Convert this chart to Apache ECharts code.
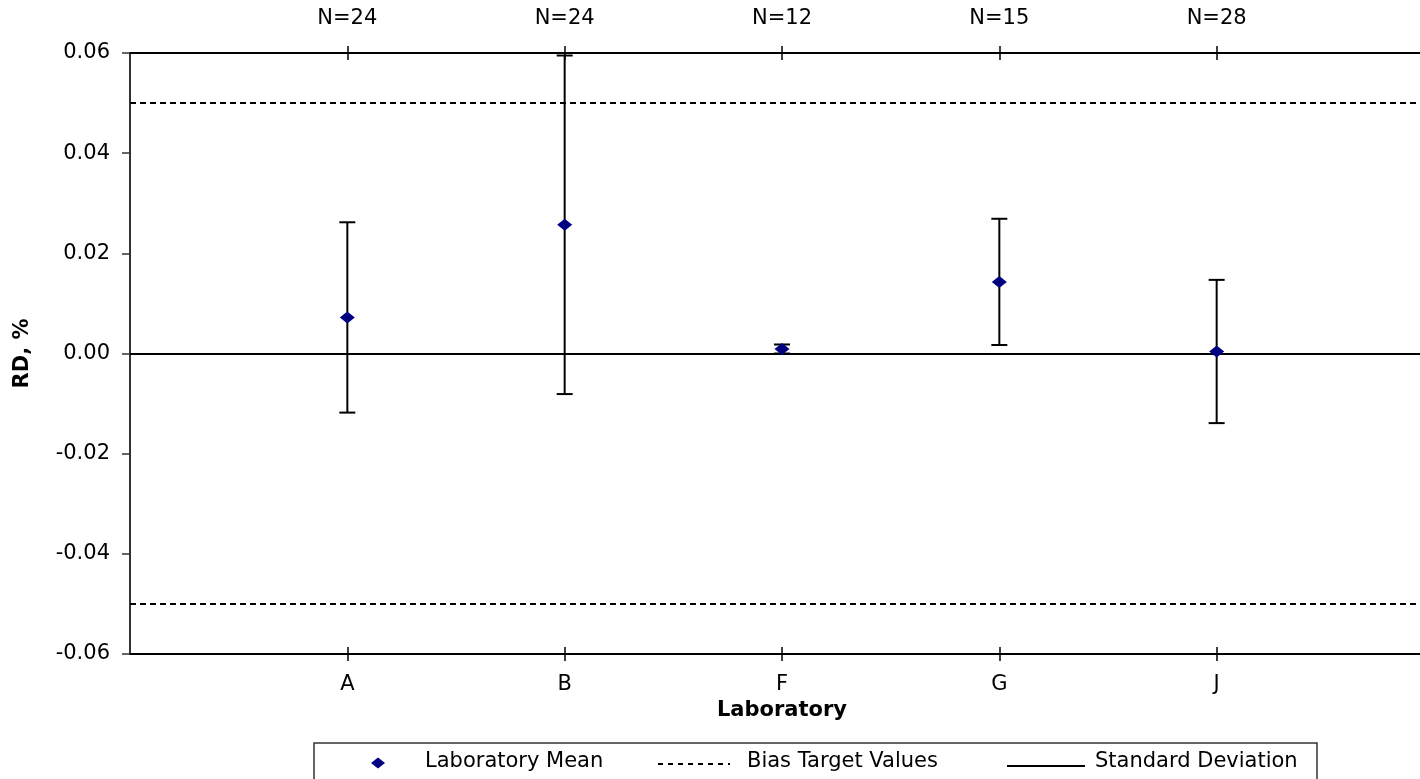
<!DOCTYPE html>
<html>
<head>
<meta charset="utf-8">
<title>Laboratory RD</title>
<script src="https://cdn.jsdelivr.net/npm/echarts@6/dist/echarts.min.js"></script>
<style>
  html, body { margin: 0; padding: 0; background: #fff; overflow: hidden; }
  #chart { width: 1440px; height: 779px; }
</style>
</head>
<body>
<div id="chart"></div>
<script>
// Laboratories and their sample counts
const labs = ['A', 'B', 'F', 'G', 'J'];
const counts = ['N=24', 'N=24', 'N=12', 'N=15', 'N=28'];
// Mean relative difference (%) and standard deviation per laboratory
const labMeans = [0.0072, 0.0257, 0.0009, 0.0143, 0.0004];
const labSD = [0.0190, 0.0338, 0.0009, 0.0126, 0.0143];
// Bias target limits
const biasTargets = [0.05, -0.05];

const FONT = '"DejaVu Sans", "Liberation Sans", Arial, sans-serif';
const positions = labs.map((_, i) => i + 1);

const meanData = positions.map((p, i) => [p, labMeans[i]]);
const sdData = positions.map((p, i) => [p, labMeans[i] - labSD[i], labMeans[i] + labSD[i]]);

const chart = echarts.init(document.getElementById('chart'), null, { renderer: 'canvas' });

const baseX = {
  type: 'value', min: 0, max: 6, interval: 1,
  splitLine: { show: false }
};

const option = {
  animation: false,
  backgroundColor: '#fff',
  grid: { left: 130, top: 53, width: 1304, height: 601, containLabel: false },
  xAxis: [
    Object.assign({}, baseX, {
      position: 'bottom',
      name: 'Laboratory', nameLocation: 'middle', nameGap: 42,
      nameTextStyle: { fontFamily: FONT, fontSize: 21, fontWeight: 'bold', color: '#000' },
      axisLine: { show: true, onZero: false, lineStyle: { color: '#000', width: 2 } },
      axisTick: { show: true, inside: false, length: 7, customValues: positions, lineStyle: { color: '#000', width: 1.5 } },
      axisLabel: { show: true, margin: 20, customValues: positions, fontFamily: FONT, fontSize: 21, color: '#000',
        formatter: v => labs[v - 1] || '' }
    }),
    Object.assign({}, baseX, {
      position: 'top',
      axisLine: { show: true, onZero: false, lineStyle: { color: '#000', width: 2 } },
      axisTick: { show: true, inside: false, length: 7, customValues: positions, lineStyle: { color: '#000', width: 1.5 } },
      axisLabel: { show: true, margin: 24, customValues: positions, fontFamily: FONT, fontSize: 21, color: '#000',
        formatter: v => counts[v - 1] || '' }
    }),
    Object.assign({}, baseX, {
      position: 'bottom',
      axisLine: { show: false, onZero: false },
      axisTick: { show: true, inside: true, length: 7, customValues: positions, lineStyle: { color: '#000', width: 1.5 } },
      axisLabel: { show: false }
    }),
    Object.assign({}, baseX, {
      position: 'top',
      axisLine: { show: false, onZero: false },
      axisTick: { show: true, inside: true, length: 7, customValues: positions, lineStyle: { color: '#000', width: 1.5 } },
      axisLabel: { show: false }
    })
  ],
  yAxis: {
    type: 'value', min: -0.06, max: 0.06, interval: 0.02,
    name: 'RD, %', nameLocation: 'middle', nameGap: 97, nameRotate: 90,
    nameTextStyle: { fontFamily: FONT, fontSize: 21, fontWeight: 'bold', color: '#000' },
    axisLine: { show: true, onZero: false, lineStyle: { color: '#333', width: 2 } },
    axisTick: { show: true, inside: false, length: 8, lineStyle: { color: '#333', width: 1.5 } },
    axisLabel: { margin: 20, fontFamily: FONT, fontSize: 21, color: '#000',
      formatter: v => (Math.abs(v) < 1e-9 ? 0 : v).toFixed(2) },
    splitLine: { show: false }
  },
  series: [
    {
      name: 'Bias Target Values',
      type: 'line',
      data: [],
      silent: true,
      markLine: {
        silent: true, symbol: 'none', label: { show: false },
        lineStyle: { color: '#000', width: 2, type: [6, 4] },
        data: biasTargets.map(v => ({ yAxis: v }))
      }
    },
    {
      name: 'Zero',
      type: 'line',
      data: [],
      silent: true,
      markLine: {
        silent: true, symbol: 'none', label: { show: false },
        lineStyle: { color: '#000', width: 2, type: 'solid' },
        data: [{ yAxis: 0 }]
      }
    },
    {
      name: 'Standard Deviation',
      type: 'custom',
      silent: true,
      z: 3,
      data: sdData,
      encode: { x: 0, y: [1, 2] },
      renderItem: function (params, api) {
        const x = api.value(0);
        const lo = api.coord([x, api.value(1)]);
        const hi = api.coord([x, api.value(2)]);
        const w = 8;
        const st = { stroke: '#000', lineWidth: 2 };
        return {
          type: 'group',
          children: [
            { type: 'line', shape: { x1: hi[0], y1: hi[1], x2: lo[0], y2: lo[1] }, style: st },
            { type: 'line', shape: { x1: hi[0] - w, y1: hi[1], x2: hi[0] + w, y2: hi[1] }, style: st },
            { type: 'line', shape: { x1: lo[0] - w, y1: lo[1], x2: lo[0] + w, y2: lo[1] }, style: st }
          ]
        };
      }
    },
    {
      name: 'Laboratory Mean',
      type: 'scatter',
      z: 5,
      symbol: 'diamond',
      symbolSize: [15, 12],
      itemStyle: { color: '#000080', opacity: 1 },
      data: meanData
    }
  ],
  graphic: [
    // Legend box
    { type: 'rect', silent: true, shape: { x: 314, y: 743, width: 1003, height: 80 },
      style: { fill: '#fff', stroke: '#333', lineWidth: 1.5 } },
    { type: 'polygon', silent: true, shape: { points: [[378, 757.5], [385, 763], [378, 768.5], [371, 763]] },
      style: { fill: '#000080' } },
    { type: 'text', silent: true, x: 425, y: 762,
      style: { text: 'Laboratory Mean', font: '21px ' + FONT, fill: '#000', align: 'left', verticalAlign: 'middle' } },
    { type: 'line', silent: true, shape: { x1: 658, y1: 764, x2: 730, y2: 764 },
      style: { stroke: '#000', lineWidth: 2, lineDash: [5, 5] } },
    { type: 'text', silent: true, x: 747, y: 762,
      style: { text: 'Bias Target Values', font: '21px ' + FONT, fill: '#000', align: 'left', verticalAlign: 'middle' } },
    { type: 'line', silent: true, shape: { x1: 1007, y1: 766, x2: 1085, y2: 766 },
      style: { stroke: '#000', lineWidth: 2 } },
    { type: 'text', silent: true, x: 1095, y: 762,
      style: { text: 'Standard Deviation', font: '21px ' + FONT, fill: '#000', align: 'left', verticalAlign: 'middle' } }
  ]
};

chart.setOption(option);
</script>
</body>
</html>
